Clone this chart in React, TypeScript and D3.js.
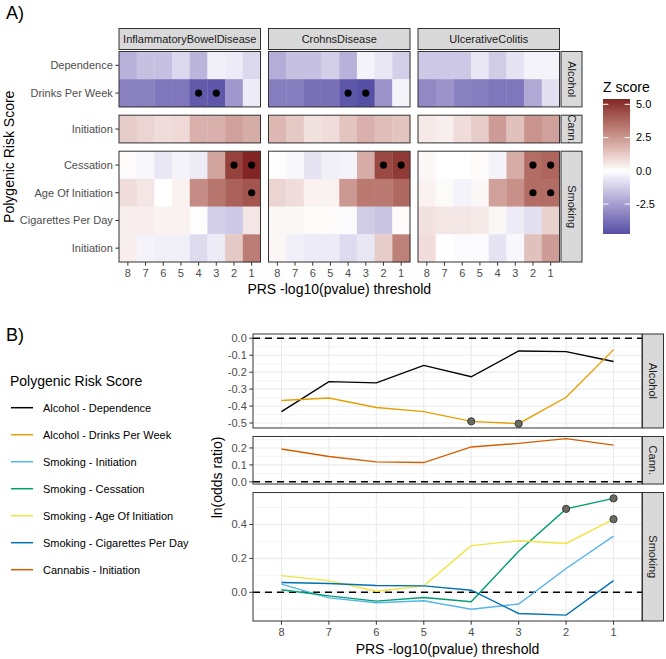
import React from "react";
import * as d3 from "d3";

// ---------------- DATA ----------------
const thresholds = ["8", "7", "6", "5", "4", "3", "2", "1"];
const diseases = ["InflammatoryBowelDisease", "CrohnsDisease", "UlcerativeColitis"];
const traitGroups = ["Alcohol", "Cann.", "Smoking"];
const alcoholTraits = ["Dependence", "Drinks Per Week"];
const cannabisTraits = ["Initiation"];
const smokingTraits = ["Cessation", "Age Of Initiation", "Cigarettes Per Day", "Initiation"];

// Z scores, rows = traits, columns = thresholds 8..1
const zIbdAlcohol = [
  [-2.0, -1.6, -1.6, -1.0, -1.9, -0.4, -0.5, -1.0],
  [-3.3, -3.3, -3.6, -3.6, -4.4, -4.5, -2.7, -0.5],
];
const zIbdCannabis = [[1.2, 1.0, 0.8, 0.9, 1.9, 1.9, 2.3, 2.0]];
const zIbdSmoking = [
  [0.1, -0.2, -0.6, -0.3, -0.5, 2.2, 4.7, 5.4],
  [0.8, 0.6, 0.0, 0.3, 2.8, 3.4, 3.9, 4.2],
  [0.4, 0.4, 0.3, 0.3, 0.05, -1.2, -1.4, 0.6],
  [0.4, -0.3, -0.4, -0.4, -0.9, -0.5, 1.3, 3.2],
];
const zCdAlcohol = [
  [-2.1, -1.6, -1.6, -1.2, -2.0, -0.3, -0.6, -1.2],
  [-3.4, -3.4, -3.8, -3.8, -4.5, -4.75, -2.8, -0.3],
];
const zCdCannabis = [[1.7, 1.3, 0.7, 0.8, 1.4, 1.9, 1.6, 1.4]];
const zCdSmoking = [
  [0.05, -0.2, -0.7, -0.4, -0.3, 2.0, 4.5, 4.9],
  [1.0, 0.8, 0.3, 0.3, 2.5, 3.3, 3.3, 3.7],
  [0.2, 0.2, 0.1, 0.1, -0.1, -1.3, -1.5, 0.1],
  [0.2, -0.4, -0.5, -0.5, -0.9, -0.6, 1.2, 3.1],
];
const zUcAlcohol = [
  [-1.4, -1.4, -1.4, -0.6, -1.3, -0.7, -0.3, -0.3],
  [-3.1, -2.8, -3.3, -3.4, -3.6, -3.6, -2.2, -0.8],
];
const zUcCannabis = [[0.5, 0.4, 0.8, 1.2, 2.4, 1.5, 2.6, 2.3]];
const zUcSmoking = [
  [0.2, 0.0, 0.0, 0.1, -0.3, 2.0, 3.6, 3.8],
  [0.3, 0.1, -0.3, 0.2, 2.3, 2.7, 3.6, 3.6],
  [0.7, 0.6, 0.6, 0.5, 0.2, -0.5, -0.8, 1.1],
  [0.8, 0.0, -0.1, -0.1, -0.7, -0.2, 1.5, 2.4],
];

// significant cells: [group, trait, threshold]
const sigIbd = [
  ["Alcohol", "Drinks Per Week", "4"], ["Alcohol", "Drinks Per Week", "3"],
  ["Smoking", "Cessation", "2"], ["Smoking", "Cessation", "1"],
  ["Smoking", "Age Of Initiation", "1"],
];
const sigCd = [
  ["Alcohol", "Drinks Per Week", "4"], ["Alcohol", "Drinks Per Week", "3"],
  ["Smoking", "Cessation", "2"], ["Smoking", "Cessation", "1"],
];
const sigUc = [
  ["Smoking", "Cessation", "2"], ["Smoking", "Cessation", "1"],
  ["Smoking", "Age Of Initiation", "2"], ["Smoking", "Age Of Initiation", "1"],
];

const zLegendTicks = [5.0, 2.5, 0.0, -2.5];

// Panel B: ln(odds ratio), thresholds 8..1
const seriesLabels = [
  "Alcohol - Dependence",
  "Alcohol - Drinks Per Week",
  "Smoking - Initiation",
  "Smoking - Cessation",
  "Smoking - Age Of Initiation",
  "Smoking - Cigarettes Per Day",
  "Cannabis - Initiation",
];
const seriesGroup = ["Alcohol", "Alcohol", "Smoking", "Smoking", "Smoking", "Smoking", "Cann."];
const lnOrAlcoholDependence = [-0.433, -0.256, -0.263, -0.160, -0.227, -0.075, -0.079, -0.137];
const lnOrAlcoholDrinks = [-0.367, -0.352, -0.408, -0.433, -0.490, -0.504, -0.348, -0.067];
const lnOrSmokingInitiation = [0.048, -0.033, -0.062, -0.050, -0.100, -0.069, 0.140, 0.331];
const lnOrSmokingCessation = [0.015, -0.021, -0.052, -0.031, -0.056, 0.242, 0.492, 0.554];
const lnOrSmokingAge = [0.098, 0.069, 0.006, 0.038, 0.275, 0.304, 0.288, 0.431];
const lnOrSmokingCigs = [0.058, 0.052, 0.040, 0.038, 0.012, -0.125, -0.135, 0.069];
const lnOrCannabis = [0.194, 0.150, 0.118, 0.114, 0.206, 0.227, 0.255, 0.217];
// significant points: [series index, threshold]
const sigPointsB: [number, string][] = [[1, "4"], [1, "3"], [3, "2"], [3, "1"], [4, "1"]];
const facetTickStep = [0.1, 0.1, 0.2];

// ---------------- STYLE ----------------
const FONT = "'Liberation Sans', Arial, Helvetica, sans-serif";
const palette = ["#000000", "#E69F00", "#56B4E9", "#009E73", "#F0E442", "#0072B2", "#D55E00"];
const lowCol = "#3A3A98";
const highCol = "#832424";
const grey20 = "#333333";
const stripFill = "#D9D9D9";
const axisTextCol = "#4D4D4D";
const stripTextCol = "#1A1A1A";
const gridCol = "#EBEBEB";

const fmt = (v: number) => d3.format(".1f")(v).replace("\u2212", "-");

export default function App() {
  const W = 666, H = 659;

  // ============ PANEL A (heatmaps) ============
  const zTables = [
    [zIbdAlcohol, zIbdCannabis, zIbdSmoking],
    [zCdAlcohol, zCdCannabis, zCdSmoking],
    [zUcAlcohol, zUcCannabis, zUcSmoking],
  ];
  const sigTables = [sigIbd, sigCd, sigUc];
  const groupTraits = [alcoholTraits, cannabisTraits, smokingTraits];
  const allZ = zTables.flat(3) as number[];
  const zMin = d3.min(allZ) as number;
  const zMax = d3.max(allZ) as number;
  const zAbs = Math.max(Math.abs(zMin), Math.abs(zMax));
  const posInterp = d3.interpolateLab("#FFFFFF", highCol);
  const negInterp = d3.interpolateLab("#FFFFFF", lowCol);
  const fillZ = (v: number) => (v >= 0 ? posInterp(v / zAbs) : negInterp(-v / zAbs));

  const aLeft = 119, aPanelW = 141.5, aPanelGap = 8;
  const aTop = 51.5, aBottom = 262, aGroupGap = 8.3;
  const nRows = d3.sum(groupTraits, (g) => g.length);
  const rowH = (aBottom - aTop - aGroupGap * (groupTraits.length - 1)) / nRows;
  let yc = aTop;
  const aGroups = groupTraits.map((traits, gi) => {
    const h = traits.length * rowH;
    const g = { name: traitGroups[gi], traits, y0: yc, y1: yc + h, gi };
    yc += h + aGroupGap;
    return g;
  });
  const aPanelX = (d: number) => aLeft + d * (aPanelW + aPanelGap);
  const aRight = aPanelX(diseases.length - 1) + aPanelW;

  const heatEls: any[] = [];
  diseases.forEach((dis, di) => {
    const x0 = aPanelX(di);
    const xs = d3.scaleBand().domain(thresholds).range([x0, x0 + aPanelW]).padding(0);
    // top strip
    heatEls.push(
      <g key={`strip-${di}`}>
        <rect x={x0} y={28.5} width={aPanelW} height={21} fill={stripFill} stroke={grey20} strokeWidth={1} />
        <text x={x0 + aPanelW / 2} y={39} dy="0.35em" textAnchor="middle" fontSize={11} fill={stripTextCol}>{dis}</text>
      </g>
    );
    aGroups.forEach((g) => {
      const ys = d3.scaleBand().domain(g.traits.map((t, i) => String(i))).range([g.y0, g.y1]).padding(0);
      const table = zTables[di][g.gi];
      g.traits.forEach((trait, ti) => {
        thresholds.forEach((th, j) => {
          heatEls.push(
            <rect key={`t-${di}-${g.gi}-${ti}-${j}`} x={xs(th)} y={ys(String(ti))} width={xs.bandwidth() + 0.3}
              height={ys.bandwidth() + 0.3} fill={fillZ(table[ti][j])} />
          );
        });
      });
      sigTables[di].filter((s) => s[0] === g.name).forEach((s, k) => {
        const ti = g.traits.indexOf(s[1]);
        heatEls.push(
          <circle key={`s-${di}-${g.gi}-${k}`} cx={(xs(s[2]) as number) + xs.bandwidth() / 2}
            cy={(ys(String(ti)) as number) + ys.bandwidth() / 2} r={3.6} fill="#000" />
        );
      });
      heatEls.push(
        <rect key={`pb-${di}-${g.gi}`} x={x0} y={g.y0} width={aPanelW} height={g.y1 - g.y0} fill="none" stroke={grey20} strokeWidth={1} />
      );
    });
    // x axis
    thresholds.forEach((th) => {
      const cx = (xs(th) as number) + xs.bandwidth() / 2;
      heatEls.push(
        <g key={`xt-${di}-${th}`}>
          <line x1={cx} x2={cx} y1={aBottom} y2={aBottom + 3.7} stroke={grey20} />
          <text x={cx} y={aBottom + 11.5} dy="0.35em" textAnchor="middle" fontSize={11} fill={axisTextCol}>{th}</text>
        </g>
      );
    });
  });
  // right strips and y axis labels
  aGroups.forEach((g) => {
    const ys = d3.scaleBand().domain(g.traits.map((t, i) => String(i))).range([g.y0, g.y1]).padding(0);
    const sx = aRight + 1.5;
    heatEls.push(
      <g key={`rs-${g.gi}`}>
        <rect x={sx} y={g.y0} width={21} height={g.y1 - g.y0} fill={stripFill} stroke={grey20} strokeWidth={1} />
        <text transform={`translate(${sx + 10.5},${(g.y0 + g.y1) / 2}) rotate(90)`} dy="0.35em" textAnchor="middle"
          fontSize={11} fill={stripTextCol}>{g.name}</text>
      </g>
    );
    g.traits.forEach((t, ti) => {
      const cy = (ys(String(ti)) as number) + ys.bandwidth() / 2;
      heatEls.push(
        <g key={`yl-${g.gi}-${ti}`}>
          <line x1={aLeft - 3.7} x2={aLeft} y1={cy} y2={cy} stroke={grey20} />
          <text x={aLeft - 6.2} y={cy} dy="0.35em" textAnchor="end" fontSize={11} fill={axisTextCol}>{t}</text>
        </g>
      );
    });
  });

  // colour bar legend
  const cbX = 603, cbW = 27, cbTop = 99, cbBottom = 234;
  const cbScale = d3.scaleLinear().domain([zMin, zMax]).range([cbBottom, cbTop]);
  const cbStops = d3.range(0, 61).map((i) => {
    const v = zMin + (i / 60) * (zMax - zMin);
    return { off: i / 60, col: fillZ(v) };
  });

  // ============ PANEL B (lines) ============
  const bLeft = 253, bRight = 642, bTop = 334, bBottom = 621, bGap = 8.5;
  const seriesValues = [
    lnOrAlcoholDependence, lnOrAlcoholDrinks, lnOrSmokingInitiation, lnOrSmokingCessation,
    lnOrSmokingAge, lnOrSmokingCigs, lnOrCannabis,
  ];
  const facetRanges = traitGroups.map((gname) => {
    const vals: number[] = [0];
    seriesValues.forEach((s, i) => { if (seriesGroup[i] === gname) vals.push(...s); });
    const lo = d3.min(vals) as number, hi = d3.max(vals) as number;
    const pad = (hi - lo) * 0.05;
    return [lo - pad, hi + pad];
  });
  const totalSpan = d3.sum(facetRanges, (r) => r[1] - r[0]);
  const pxPerUnit = (bBottom - bTop - bGap * (traitGroups.length - 1)) / totalSpan;
  let byc = bTop;
  const bFacets = facetRanges.map((r, i) => {
    const h = (r[1] - r[0]) * pxPerUnit;
    const f = { name: traitGroups[i], y0: byc, y1: byc + h, scale: d3.scaleLinear().domain(r).range([byc + h, byc]), step: facetTickStep[i] };
    byc += h + bGap;
    return f;
  });
  const bx = d3.scalePoint().domain(thresholds).range([bLeft, bRight]).padding(0.6);

  const bEls: any[] = [];
  bFacets.forEach((f, fi) => {
    const [lo, hi] = f.scale.domain();
    const majors = d3.range(Math.ceil(lo / f.step - 1e-9), Math.floor(hi / f.step + 1e-9) + 1).map((k) => +(k * f.step).toFixed(3));
    const minors = d3.range(Math.floor(lo / f.step), Math.ceil(hi / f.step) + 1)
      .map((k) => (k + 0.5) * f.step).filter((v) => v > lo && v < hi);
    bEls.push(<rect key={`bg-${fi}`} x={bLeft} y={f.y0} width={bRight - bLeft} height={f.y1 - f.y0} fill="#fff" />);
    minors.forEach((v, k) => bEls.push(
      <line key={`mn-${fi}-${k}`} x1={bLeft} x2={bRight} y1={f.scale(v)} y2={f.scale(v)} stroke={gridCol} strokeWidth={0.55} />
    ));
    majors.forEach((v, k) => bEls.push(
      <line key={`mj-${fi}-${k}`} x1={bLeft} x2={bRight} y1={f.scale(v)} y2={f.scale(v)} stroke={gridCol} strokeWidth={1.1} />
    ));
    thresholds.forEach((th) => bEls.push(
      <line key={`vg-${fi}-${th}`} x1={bx(th)} x2={bx(th)} y1={f.y0} y2={f.y1} stroke={gridCol} strokeWidth={1.1} />
    ));
    // hline at zero
    bEls.push(
      <line key={`h0-${fi}`} x1={bLeft} x2={bRight} y1={f.scale(0)} y2={f.scale(0)} stroke="#000" strokeWidth={1.5} strokeDasharray="7,5" />
    );
    // lines
    seriesValues.forEach((s, si) => {
      if (seriesGroup[si] !== f.name) return;
      const line = d3.line<number>().x((d, i) => bx(thresholds[i]) as number).y((d) => f.scale(d));
      bEls.push(<path key={`ln-${fi}-${si}`} d={line(s) as string} fill="none" stroke={palette[si]} strokeWidth={1.4} />);
    });
    sigPointsB.forEach(([si, th], k) => {
      if (seriesGroup[si] !== f.name) return;
      const v = seriesValues[si][thresholds.indexOf(th)];
      bEls.push(<circle key={`sp-${fi}-${k}`} cx={bx(th)} cy={f.scale(v)} r={3.6} fill="#6b6b62" stroke="#3a3a3a" strokeWidth={1} />);
    });
    // border
    bEls.push(<rect key={`bb-${fi}`} x={bLeft} y={f.y0} width={bRight - bLeft} height={f.y1 - f.y0} fill="none" stroke={grey20} strokeWidth={1} />);
    // y axis
    majors.forEach((v, k) => bEls.push(
      <g key={`yt-${fi}-${k}`}>
        <line x1={bLeft - 3.7} x2={bLeft} y1={f.scale(v)} y2={f.scale(v)} stroke={grey20} />
        <text x={bLeft - 6.2} y={f.scale(v)} dy="0.35em" textAnchor="end" fontSize={11} fill={axisTextCol}>{fmt(v)}</text>
      </g>
    ));
    // strip
    bEls.push(
      <g key={`bs-${fi}`}>
        <rect x={bRight + 0.5} y={f.y0} width={21} height={f.y1 - f.y0} fill={stripFill} stroke={grey20} strokeWidth={1} />
        <text transform={`translate(${bRight + 11},${(f.y0 + f.y1) / 2}) rotate(90)`} dy="0.35em" textAnchor="middle"
          fontSize={11} fill={stripTextCol}>{f.name}</text>
      </g>
    );
  });
  thresholds.forEach((th) => bEls.push(
    <g key={`bxt-${th}`}>
      <line x1={bx(th)} x2={bx(th)} y1={bBottom} y2={bBottom + 3.7} stroke={grey20} />
      <text x={bx(th)} y={bBottom + 11.5} dy="0.35em" textAnchor="middle" fontSize={11} fill={axisTextCol}>{th}</text>
    </g>
  ));

  return (
    <svg width={W} height={H} style={{ position: "absolute", left: 0, top: 0, background: "#fff" }} fontFamily={FONT}>
      <defs>
        <linearGradient id="zgrad" x1="0" y1="1" x2="0" y2="0">
          {cbStops.map((s, i) => <stop key={i} offset={s.off} stopColor={s.col} />)}
        </linearGradient>
      </defs>
      <rect x={0} y={0} width={W} height={H} fill="#fff" />
      {/* Panel A */}
      <text x={6} y={13} dy="0.35em" fontSize={18} fill="#000">A)</text>
      {heatEls}
      <text transform={`translate(9,${(aTop + aBottom) / 2}) rotate(-90)`} dy="0.35em" textAnchor="middle" fontSize={14} fill="#000">Polygenic Risk Score</text>
      <text x={(aLeft + aRight) / 2} y={aBottom + 27} dy="0.35em" textAnchor="middle" fontSize={14} fill="#000">PRS -log10(pvalue) threshold</text>
      <text x={cbX} y={87} dy="0.35em" fontSize={14} fill="#000">Z score</text>
      <rect x={cbX} y={cbTop} width={cbW} height={cbBottom - cbTop} fill="url(#zgrad)" />
      {zLegendTicks.map((v) => (
        <g key={`cb-${v}`}>
          <line x1={cbX} x2={cbX + cbW / 5} y1={cbScale(v)} y2={cbScale(v)} stroke="#fff" strokeWidth={1} />
          <line x1={cbX + cbW - cbW / 5} x2={cbX + cbW} y1={cbScale(v)} y2={cbScale(v)} stroke="#fff" strokeWidth={1} />
          <text x={cbX + cbW + 6} y={cbScale(v)} dy="0.35em" fontSize={11} fill="#000">{fmt(v)}</text>
        </g>
      ))}
      {/* Panel B */}
      <text x={6} y={335} dy="0.35em" fontSize={18} fill="#000">B)</text>
      <text x={10} y={381} dy="0.35em" fontSize={14} fill="#000">Polygenic Risk Score</text>
      {seriesLabels.map((lab, i) => (
        <g key={`lg-${i}`}>
          <line x1={11} x2={33} y1={407.7 + i * 27} y2={407.7 + i * 27} stroke={palette[i]} strokeWidth={1.5} />
          <text x={43} y={407.7 + i * 27} dy="0.35em" fontSize={11} fill="#000">{lab}</text>
        </g>
      ))}
      {bEls}
      <text transform={`translate(217,${(bTop + bBottom) / 2}) rotate(-90)`} dy="0.35em" textAnchor="middle" fontSize={14} fill="#000">ln(odds ratio)</text>
      <text x={(bLeft + bRight) / 2} y={bBottom + 28} dy="0.35em" textAnchor="middle" fontSize={14} fill="#000">PRS -log10(pvalue) threshold</text>
    </svg>
  );
}
